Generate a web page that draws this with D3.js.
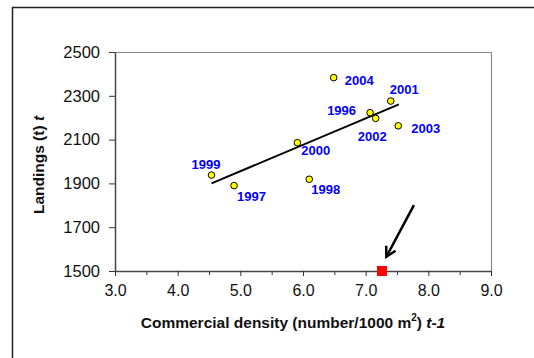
<!DOCTYPE html>
<html>
<head>
<meta charset="utf-8">
<script src="https://cdn.jsdelivr.net/npm/d3@7"></script>
<style>
  body { margin: 0; background: #fff; }
  svg { display: block; font-family: "Liberation Sans", Arial, sans-serif; }
</style>
</head>
<body>
<div id="chart"></div>
<script>
// data
const years    = ["1996", "1997", "1998", "1999", "2000", "2001", "2002", "2003", "2004"];
const density  = [7.07, 4.90, 6.10, 4.54, 5.91, 7.40, 7.16, 7.52, 6.49];
const landings = [2223, 1890, 1919, 1938, 2086, 2276, 2197, 2163, 2383];

// fitted line, two ends
const trendX = [4.54, 7.53];
const trendY = [1900, 2261];

// current year marker and the arrow pointing at it
const currentX = [7.26];
const currentY = [1500];
const arrowX = [7.77, 7.33];
const arrowY = [1801, 1565];

const xTicks = [3, 4, 5, 6, 7, 8, 9];
const yTicks = [1500, 1700, 1900, 2100, 2300, 2500];

const W = 534, H = 358;
const margin = { top: 52, left: 115 },
  width = 376,
  height = 219;

const svg = d3.select("#chart")
  .append("svg")
  .attr("width", W)
  .attr("height", H);

// outer frame (runs off the right and bottom)
svg.append("rect")
  .attr("x", 12.5)
  .attr("y", 7.5)
  .attr("width", W)
  .attr("height", H)
  .attr("fill", "none")
  .attr("stroke", "#222")
  .attr("stroke-width", 1.5);

const g = svg.append("g")
  .attr("transform", `translate(${margin.left}, ${margin.top})`);

const x = d3.scaleLinear().domain([3, 9]).range([0, width]);
const y = d3.scaleLinear().domain([1500, 2500]).range([height, 0]);

// top and right edges of plot area
g.append("path")
  .attr("d", `M0,0.5H${width + 0.5}V${height}`)
  .attr("fill", "none")
  .attr("stroke", "#8a8a8a")
  .attr("stroke-width", 1.2);

// minor x ticks
g.append("g")
  .attr("transform", `translate(0, ${height})`)
  .call(d3.axisBottom(x).tickValues(d3.range(3.5, 9, 1)).tickSize(4).tickFormat(""))
  .call(s => s.select(".domain").remove())
  .selectAll("line").attr("stroke", "#333");

// x axis
const xAxis = g.append("g")
  .attr("transform", `translate(0, ${height})`)
  .call(d3.axisBottom(x).tickValues(xTicks).tickSize(5).tickSizeOuter(0).tickPadding(9)
    .tickFormat(d3.format(".1f")));
xAxis.select(".domain").attr("stroke", "#444").attr("stroke-width", 1.5);
xAxis.selectAll("line").attr("stroke", "#333");
xAxis.selectAll("text")
  .style("font-size", "16px")
  .style("font-family", "Liberation Sans, Arial, sans-serif")
  .attr("fill", "#111");

// y axis
const yAxis = g.append("g")
  .call(d3.axisLeft(y).tickValues(yTicks).tickSize(6).tickSizeOuter(0).tickPadding(9)
    .tickFormat(d3.format("d")));
yAxis.select(".domain").attr("stroke", "#444").attr("stroke-width", 1.5);
yAxis.selectAll("line").attr("stroke", "#333");
yAxis.selectAll("text")
  .style("font-size", "16.5px")
  .style("font-family", "Liberation Sans, Arial, sans-serif")
  .attr("fill", "#111");

// trend line
g.append("line")
  .attr("x1", x(trendX[0]))
  .attr("y1", y(trendY[0]))
  .attr("x2", x(trendX[1]))
  .attr("y2", y(trendY[1]))
  .attr("stroke", "#000")
  .attr("stroke-width", 2);

// points
const pts = years.map((yr, i) => ({ year: yr, x: density[i], y: landings[i] }));

g.append("g")
  .selectAll("circle")
  .data(pts)
  .enter()
  .append("circle")
  .attr("cx", d => x(d.x))
  .attr("cy", d => y(d.y))
  .attr("r", 3.3)
  .attr("fill", "#ffff00")
  .attr("stroke", "#000")
  .attr("stroke-width", 1);

// where each year label sits relative to its point
const labelPos = {
  "1996": [-14, 2, "end"],
  "1997": [3, 15, "start"],
  "1998": [2, 15, "start"],
  "1999": [-20, -6, "start"],
  "2000": [4, 12, "start"],
  "2001": [-1, -7, "start"],
  "2002": [11, 23, "end"],
  "2003": [13, 7, "start"],
  "2004": [11, 7, "start"]
};

g.append("g")
  .selectAll("text")
  .data(pts)
  .enter()
  .append("text")
  .attr("x", d => x(d.x) + labelPos[d.year][0])
  .attr("y", d => y(d.y) + labelPos[d.year][1])
  .attr("text-anchor", d => labelPos[d.year][2])
  .style("font-size", "13px")
  .attr("font-weight", "bold")
  .attr("fill", "#0000ff")
  .text(d => d.year);

// arrow
const ax0 = x(arrowX[0]), ay0 = y(arrowY[0]);
const ax1 = x(arrowX[1]), ay1 = y(arrowY[1]);
const ang = Math.atan2(ay1 - ay0, ax1 - ax0);
const head = 11, spread = 0.5;
g.append("line")
  .attr("x1", ax0).attr("y1", ay0)
  .attr("x2", ax1).attr("y2", ay1)
  .attr("stroke", "#000")
  .attr("stroke-width", 2.5);
g.append("path")
  .attr("d", `M${ax1 - head * Math.cos(ang - spread)},${ay1 - head * Math.sin(ang - spread)}` +
    `L${ax1},${ay1}` +
    `L${ax1 - head * Math.cos(ang + spread)},${ay1 - head * Math.sin(ang + spread)}`)
  .attr("fill", "none")
  .attr("stroke", "#000")
  .attr("stroke-width", 2.5);

// current year marker
g.append("g")
  .selectAll("rect")
  .data(currentX.map((v, i) => [v, currentY[i]]))
  .enter()
  .append("rect")
  .attr("x", d => x(d[0]) - 5)
  .attr("y", d => y(d[1]) - 5)
  .attr("width", 10)
  .attr("height", 10)
  .attr("fill", "#ff0000");

// axis titles
const yt = svg.append("text")
  .attr("transform", `translate(44, 165) rotate(-90)`)
  .attr("text-anchor", "middle")
  .style("font-size", "15.5px")
  .attr("font-weight", "bold")
  .attr("fill", "#111");
yt.append("tspan").text("Landings (t) ");
yt.append("tspan").attr("font-style", "italic").text("t");

const xt = svg.append("text")
  .attr("x", 293)
  .attr("y", 328)
  .attr("text-anchor", "middle")
  .style("font-size", "15.5px")
  .attr("font-weight", "bold")
  .attr("fill", "#111");
xt.append("tspan").text("Commercial density (number/1000 m");
xt.append("tspan").style("font-size", "10px").attr("dy", -7).text("2");
xt.append("tspan").attr("dy", 7).text(") ");
xt.append("tspan").attr("font-style", "italic").text("t-1");
</script>
</body>
</html>
